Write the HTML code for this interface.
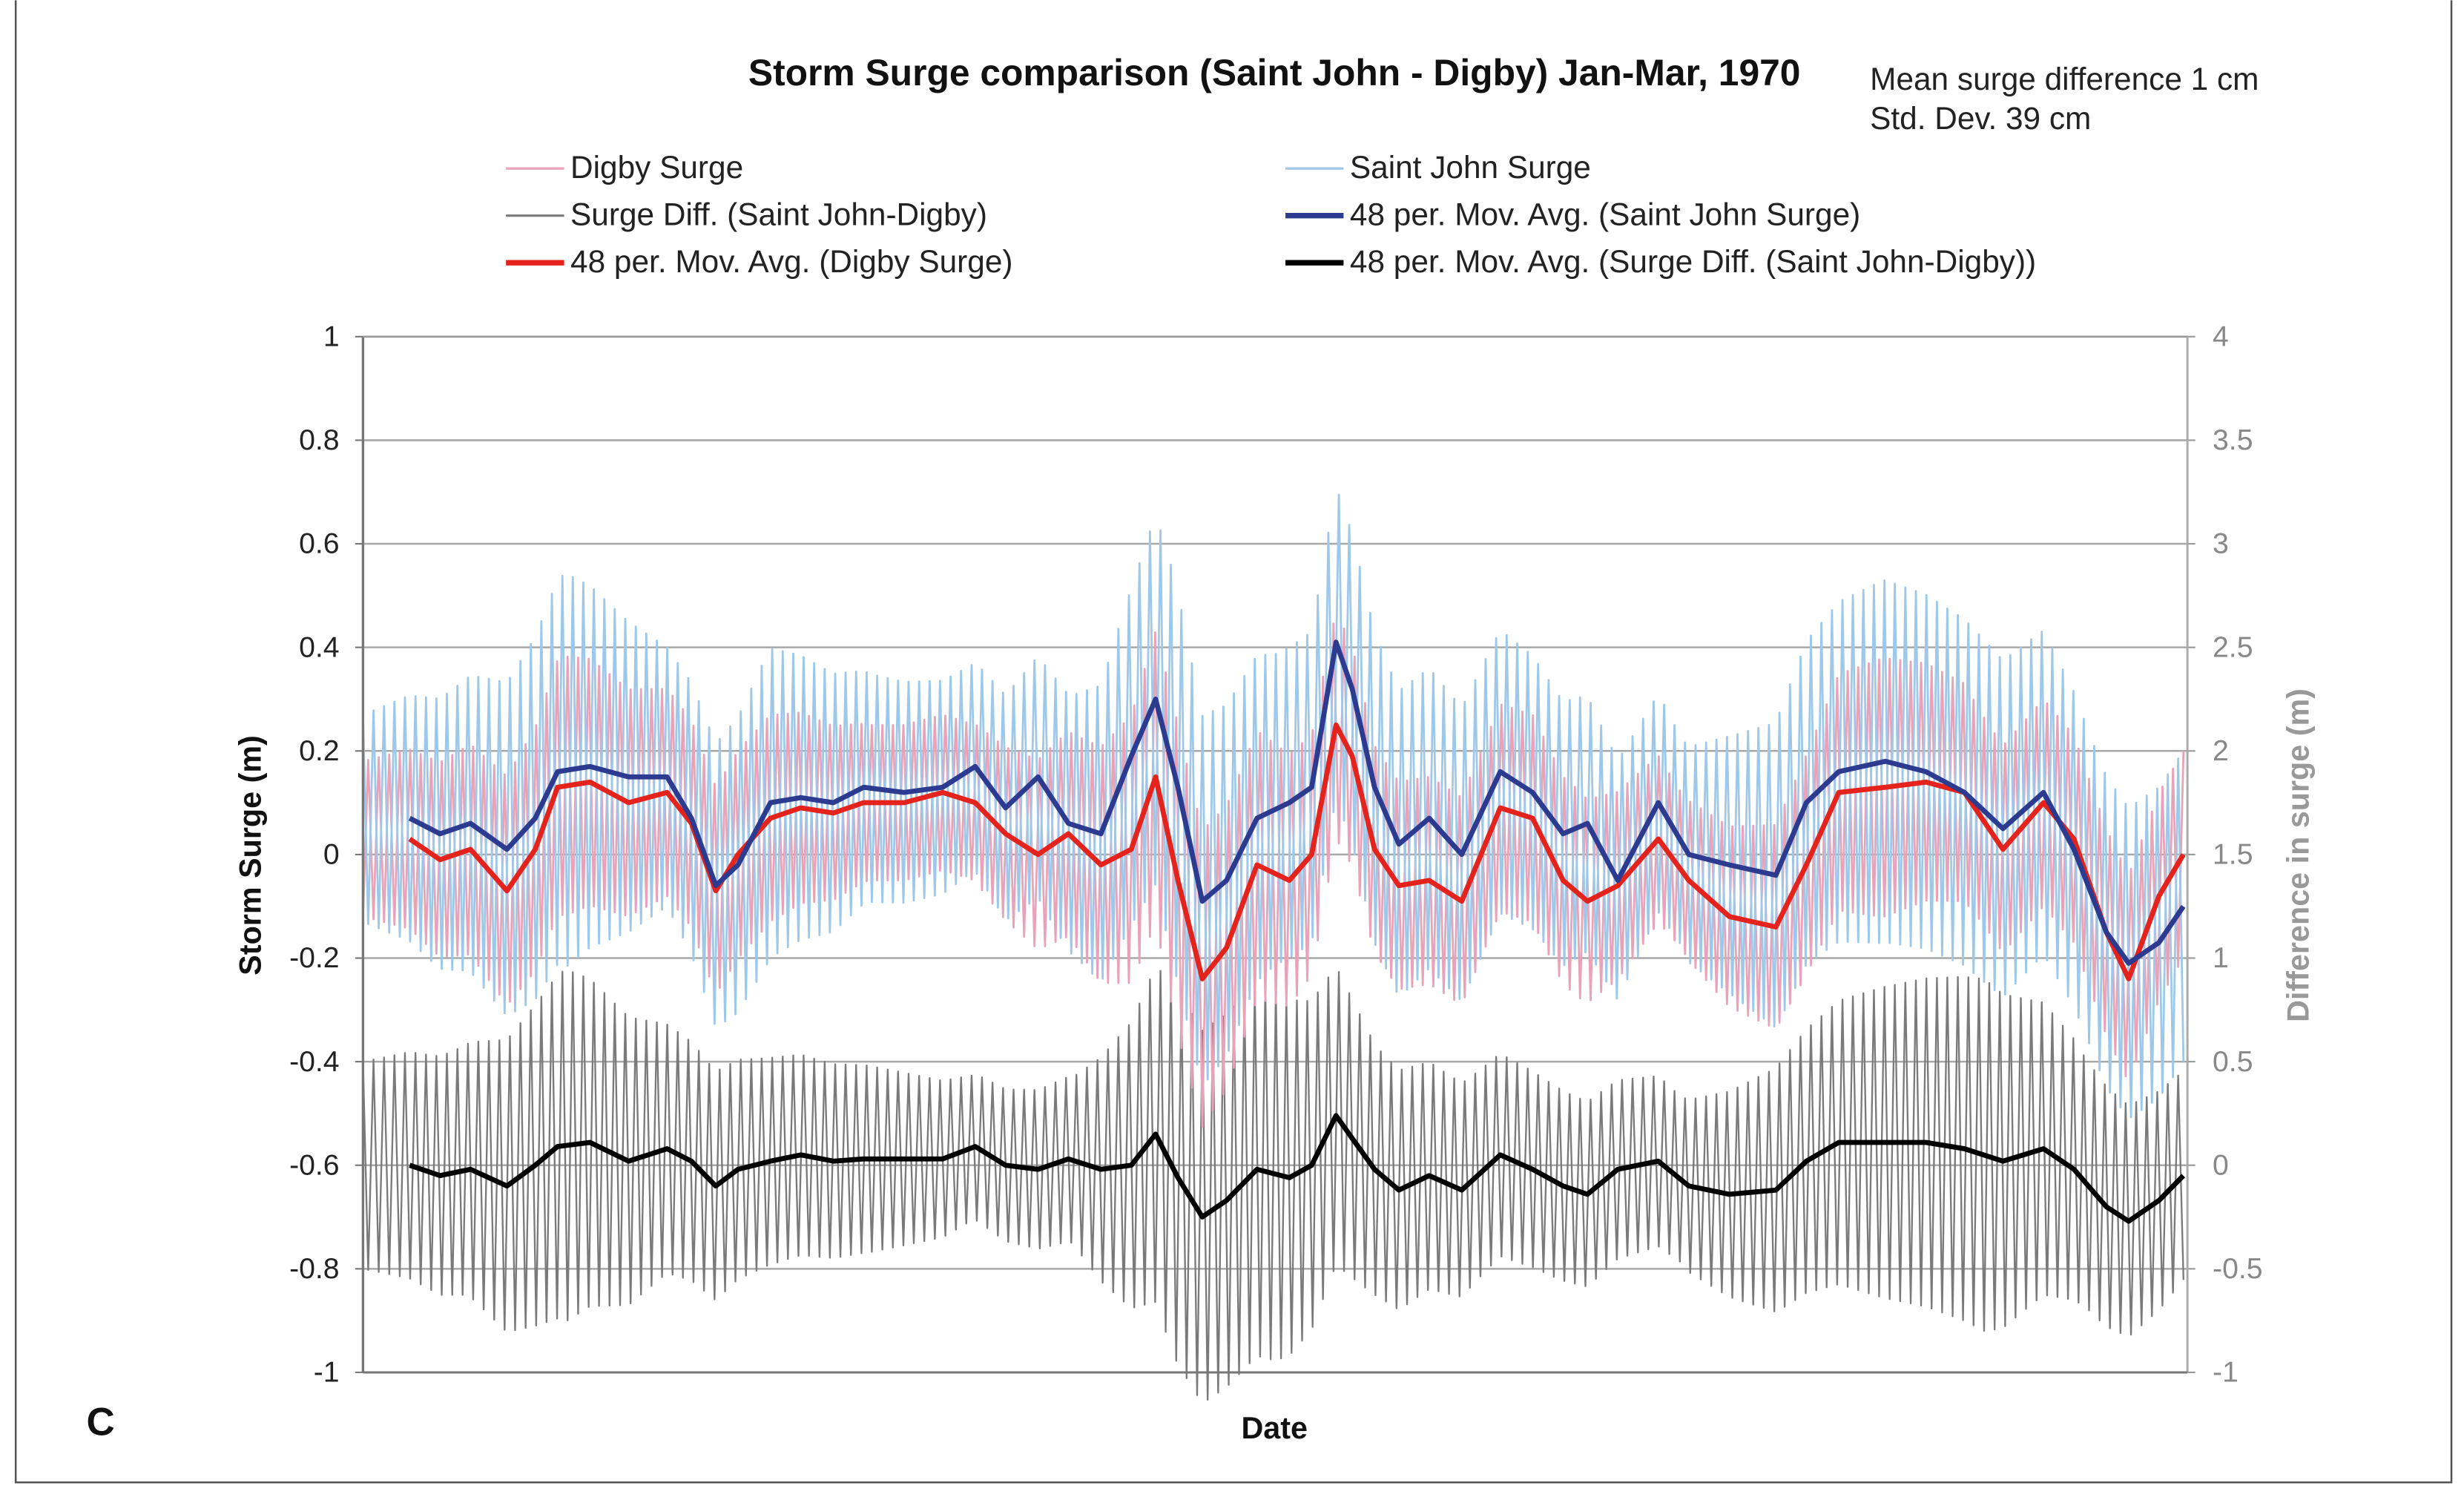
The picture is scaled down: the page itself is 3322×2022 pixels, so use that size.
<!DOCTYPE html>
<html><head><meta charset="utf-8"><style>
html,body{margin:0;padding:0;background:#fff}
svg{display:block;font-family:"Liberation Sans",Arial,sans-serif}
</style></head><body>
<svg id="chart" width="3322" height="2022" viewBox="0 0 1568 954" xmlns="http://www.w3.org/2000/svg">
<rect x="0" y="0" width="1568" height="954" fill="#fff"/>
<path d="M10,0 V943 H1560 V0" fill="none" stroke="#555" stroke-width="1.2"/>
<text x="811" y="54" text-anchor="middle" font-size="23.5" font-weight="bold" fill="#111">Storm Surge comparison (Saint John - Digby) Jan-Mar, 1970</text>
<text x="1190" y="57" font-size="20" fill="#222">Mean surge difference 1 cm</text>
<text x="1190" y="82" font-size="20" fill="#222">Std. Dev. 39 cm</text>
<g id="legend" font-size="20" fill="#222"></g>
<g id="grid"></g>
<g id="series"></g>
<g id="axes"></g>
<text transform="translate(166,544) rotate(-90)" text-anchor="middle" font-size="19.5" font-weight="bold" fill="#111">Storm Surge (m)</text>
<text transform="translate(1469,544) rotate(-90)" text-anchor="middle" font-size="19.5" font-weight="bold" fill="#999">Difference in surge (m)</text>
<text x="811" y="915" text-anchor="middle" font-size="19.5" font-weight="bold" fill="#111">Date</text>
<text x="55" y="913" font-size="25" font-weight="bold" fill="#111">C</text>
</svg>
<script>
const maDays=[2.3,3.8,5.3,7.1,8.5,9.6,11.2,13.1,15.0,16.2,17.4,18.5,20.1,21.6,23.2,24.7,26.7,28.6,30.2,31.7,33.3,34.8,36.4,37.9,39.1,40.2,41.4,42.6,44.1,45.7,46.8,48.0,48.8,49.9,51.1,52.6,54.2,56.1,57.7,59.2,60.4,61.9,63.9,65.4,67.4,69.7,71.2,72.8,75.1,77.1,79.0,80.9,82.9,84.4,86.0,87.1,88.6,89.8];
const sjMA=[0.07,0.04,0.06,0.01,0.07,0.16,0.17,0.15,0.15,0.07,-0.06,-0.02,0.10,0.11,0.10,0.13,0.12,0.13,0.17,0.09,0.15,0.06,0.04,0.19,0.30,0.13,-0.09,-0.05,0.07,0.10,0.13,0.41,0.32,0.13,0.02,0.07,0.00,0.16,0.12,0.04,0.06,-0.05,0.10,0.00,-0.02,-0.04,0.10,0.16,0.18,0.16,0.12,0.05,0.12,0.01,-0.15,-0.21,-0.17,-0.10];
const dgMA=[0.03,-0.01,0.01,-0.07,0.01,0.13,0.14,0.10,0.12,0.06,-0.07,0.00,0.07,0.09,0.08,0.10,0.10,0.12,0.10,0.04,0.00,0.04,-0.02,0.01,0.15,-0.05,-0.24,-0.18,-0.02,-0.05,0.00,0.25,0.19,0.01,-0.06,-0.05,-0.09,0.09,0.07,-0.05,-0.09,-0.06,0.03,-0.05,-0.12,-0.14,-0.02,0.12,0.13,0.14,0.12,0.01,0.10,0.03,-0.15,-0.24,-0.08,0.00];
const diffMA=[0.00,-0.05,-0.02,-0.10,0.00,0.09,0.11,0.02,0.08,0.02,-0.10,-0.02,0.02,0.05,0.02,0.03,0.03,0.03,0.09,0.00,-0.02,0.03,-0.02,0.00,0.15,-0.06,-0.25,-0.17,-0.02,-0.06,0.00,0.24,0.13,-0.02,-0.12,-0.05,-0.12,0.05,-0.02,-0.10,-0.14,-0.02,0.02,-0.10,-0.14,-0.12,0.02,0.11,0.11,0.11,0.08,0.02,0.08,-0.02,-0.20,-0.27,-0.17,-0.05];
const envDays=[0,5,10,15,20,25,30,35,40,45,50,55,60,65,70,75,80,85,90];
const sjAmp=[0.2,0.28,0.38,0.25,0.3,0.22,0.2,0.25,0.38,0.3,0.3,0.28,0.25,0.2,0.3,0.35,0.33,0.3,0.3];
const dgAmp=[0.15,0.2,0.25,0.2,0.2,0.15,0.15,0.2,0.3,0.25,0.2,0.2,0.2,0.15,0.2,0.25,0.2,0.2,0.2];
const diffAmp=[0.5,0.6,0.85,0.6,0.5,0.45,0.35,0.4,0.9,0.9,0.6,0.5,0.45,0.4,0.6,0.75,0.85,0.6,0.5];
const leftTicks=[1,0.8,0.6,0.4,0.2,0,-0.2,-0.4,-0.6,-0.8,-1];
const rightTicks=[4,3.5,3,2.5,2,1.5,1,0.5,0,-0.5,-1];
const NS="http://www.w3.org/2000/svg";
const PL=231,PR=1392,PT=214,PB=873,DMAX=90;
const xS=d=>PL+(d/DMAX)*(PR-PL);
const yL=v=>PB-(v+1)/2*(PB-PT);
const yR=v=>PB-(v+1)/5*(PB-PT);
function interp(xs,ys,x){if(x<=xs[0])return ys[0];for(let i=1;i<xs.length;i++){if(x<=xs[i]){const t=(x-xs[i-1])/(xs[i]-xs[i-1]);return ys[i-1]+t*(ys[i]-ys[i-1]);}}return ys[ys.length-1];}
function mk(tag,attrs,parent){const e=document.createElementNS(NS,tag);for(const k in attrs)e.setAttribute(k,attrs[k]);parent.appendChild(e);return e;}
const grid=document.getElementById('grid'),axes=document.getElementById('axes'),ser=document.getElementById('series'),leg=document.getElementById('legend');
leftTicks.forEach((t,i)=>{
  const y=yL(t);
  if(t!==-1 && t!==1){const g=mk('line',{x1:PL,x2:PR,y1:y,y2:y,stroke:'#a8a8a8','stroke-width':1.2},grid);
  
  }
  const tx=mk('text',{x:216,y:y+6,'text-anchor':'end','font-size':18.5,fill:'#222'},axes);tx.textContent=String(t);
  
  
  mk('line',{x1:PL-5,x2:PL,y1:y,y2:y,stroke:'#777','stroke-width':1},axes);
});
rightTicks.forEach(t=>{
  const y=yR(t);
  const tx=mk('text',{x:1408,y:y+6,'font-size':18.5,fill:'#888'},axes);tx.textContent=String(t);
  
  
  mk('line',{x1:PR,x2:PR+5,y1:y,y2:y,stroke:'#999','stroke-width':1},axes);
});
const la=mk('line',{x1:PL,x2:PL,y1:PT,y2:PB,stroke:'#777','stroke-width':1.6},axes);


mk('line',{x1:PR,x2:PR,y1:PT,y2:PB,stroke:'#aaa','stroke-width':1.4},axes);
mk('line',{x1:PL,x2:PR,y1:PT,y2:PT,stroke:'#999','stroke-width':1.2},axes);
mk('line',{x1:PL,x2:PR,y1:PB,y2:PB,stroke:'#777','stroke-width':1.4},axes);
const HALF=0.2588;
function raw(ma,amp,ys,phase){let pts=[];let k=0;for(let d=0;d<=DMAX;d+=HALF,k++){const c=interp(maDays,ma,d);const a=interp(envDays,amp,d);const s=((k+phase)%2===0)?1:-1;pts.push(xS(d).toFixed(1)+','+ys(c+s*a).toFixed(1));}return pts.join(' ');}
function line(pts,color,w,name){const p=mk('polyline',{points:pts,fill:'none',stroke:color,'stroke-width':w,'stroke-linejoin':'round'},ser);

}
line(raw(diffMA,diffAmp,yR,0),'#7a7a7a',1.1,'surge-diff-series');
line(raw(dgMA,dgAmp,yL,1),'#e8a3b8',1.3,'digby-surge-series');
line(raw(sjMA,sjAmp,yL,0),'#9dc8ea',1.3,'saint-john-surge-series');
function ma(arr,ys){return maDays.map((d,i)=>xS(d).toFixed(1)+','+ys(arr[i]).toFixed(1)).join(' ');}
line(ma(diffMA,yR),'#000',3.2,'diff-moving-average');
line(ma(dgMA,yL),'#e3231c',3.2,'digby-moving-average');
line(ma(sjMA,yL),'#2c3b8f',3.2,'saint-john-moving-average');
const legItems=[[322,107,'#e8a3b8',1.5,'Digby Surge'],[818,107,'#9dc8ea',1.5,'Saint John Surge'],[322,137,'#7a7a7a',1.5,'Surge Diff. (Saint John-Digby)'],[818,137,'#2c3b8f',3.5,'48 per. Mov. Avg. (Saint John Surge)'],[322,167,'#e3231c',3.5,'48 per. Mov. Avg. (Digby Surge)'],[818,167,'#000',3.5,'48 per. Mov. Avg. (Surge Diff. (Saint John-Digby))']];
legItems.forEach(it=>{
  const g=mk('g',{},leg);
  
  
  mk('line',{x1:it[0],x2:it[0]+37,y1:it[1],y2:it[1],stroke:it[2],'stroke-width':it[3]},g);
  const t=mk('text',{x:it[0]+41,y:it[1]+6},g);t.textContent=it[4];
});
</script>
</body></html>
